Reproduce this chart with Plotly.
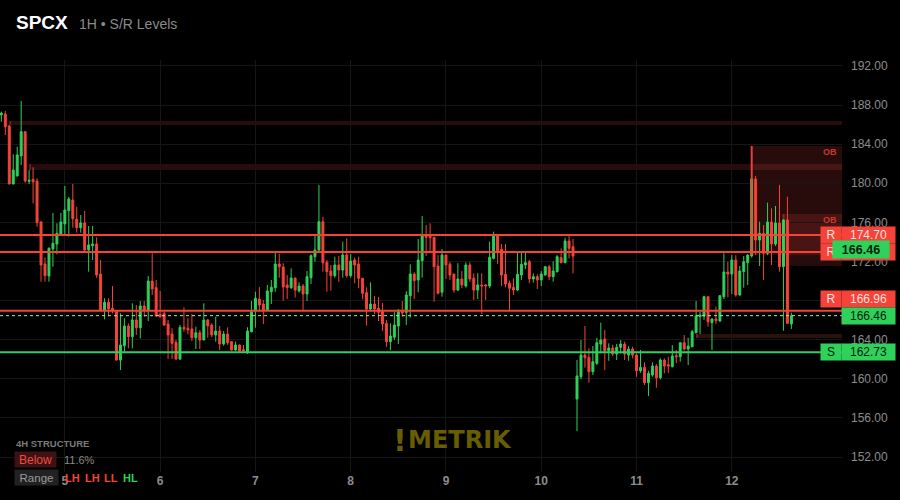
import pandas as pd
import plotly.graph_objects as go

# ---------------- data ----------------
start = pd.Timestamp("2025-01-04 08:00")

opens = [187.0, 187.09, 185.86, 179.93, 180.75, 182.79, 185.28, 180.2, 180.4, 180.24,
         176.04, 171.74, 170.52, 173.28, 173.79, 174.78, 175.84, 177.2, 178.29, 176.32,
         175.46, 175.94, 173.18, 173.62, 173.79, 170.72, 167.04, 167.83, 167.21, 166.86,
         161.92, 163.39, 165.4, 164.31, 166.02, 165.23, 167.45, 167.04, 170.0, 169.32,
         166.6, 166.70, 165.61, 164.58, 163.73, 162.03, 165.27, 165.17, 165.1, 164.2,
         164.72, 163.97, 166.02, 165.5, 164.48, 164.89, 163.56, 164.58, 163.8, 162.95,
         163.46, 162.98, 162.77, 164.82, 167.04, 168.16, 167.65, 167.04, 168.91, 169.32,
         171.74, 171.44, 169.6, 169.32, 170.31, 168.98, 169.49, 168.67, 170.34, 172.49,
         173.18, 176.07, 171.92, 171.03, 170.55, 171.64, 171.13, 172.66, 170.55, 172.15,
         171.74, 170.28, 168.81, 167.14, 167.65, 167.21, 166.86, 165.68, 163.8, 164.25,
         165.4, 166.86, 166.8, 168.5, 170.72, 170.11, 172.08, 174.61, 174.61, 174.48,
         171.54, 168.85, 172.66, 171.71, 170.72, 169.08, 170.21, 169.49, 171.64, 170.28,
         169.08, 169.6, 169.6, 169.49, 172.33, 174.61, 173.25, 170.69, 169.77, 169.36,
         169.08, 170.62, 171.64, 171.98, 170.21, 170.45, 170.11, 170.62, 171.47, 170.45,
         170.96, 172.39, 171.88, 174.1, 173.52, 157.93, 160.21, 162.43, 162.2, 160.73,
         161.59, 163.56, 164.07, 162.88, 163.15, 162.54, 163.22, 163.56, 162.43, 163.05,
         162.43, 160.83, 161.17, 159.6, 160.39, 161.31, 160.11, 161.92, 161.44, 161.24,
         162.37, 162.26, 163.69, 163.05, 163.28, 164.72, 166.35, 166.42, 168.4, 165.74,
         166.12, 165.91, 168.4, 170.93, 170.72, 172.15, 168.57, 170.96, 171.88, 172.56,
         180.44, 174.2, 174.88, 172.84, 176.04, 173.79, 175.94, 171.47, 176.25, 165.61]

highs = [187.32, 187.40, 185.96, 182.97, 183.74, 188.42, 185.35, 181.36, 181.64, 180.51,
         176.14, 172.43, 173.45, 176.96, 175.91, 176.96, 179.72, 178.6, 179.93, 177.58,
         176.76, 177.17, 175.63, 175.63, 174.48, 172.15, 168.24, 168.24, 169.49, 166.9,
         166.70, 166.19, 165.68, 167.72, 167.55, 167.96, 167.96, 170.52, 172.84, 170.11,
         168.98, 166.86, 166.02, 165.17, 163.97, 165.5, 167.31, 166.19, 166.63, 165.33,
         165.0, 167.72, 166.12, 165.68, 166.35, 165.4, 164.89, 165.27, 163.85, 163.8,
         163.5, 163.46, 165.27, 167.96, 168.91, 169.39, 168.06, 169.6, 170.11, 172.9,
         172.77, 171.82, 170.62, 171.3, 170.35, 169.87, 169.7, 171.03, 172.73, 174.71,
         179.83, 176.58, 172.15, 171.64, 172.49, 172.56, 174.03, 174.37, 172.77, 172.39,
         172.49, 170.3, 169.36, 169.87, 168.47, 168.37, 167.75, 166.02, 165.68, 166.86,
         167.14, 167.96, 168.98, 171.71, 170.9, 174.3, 176.65, 175.73, 175.91, 174.5,
         172.66, 173.28, 172.7, 171.98, 170.75, 171.82, 171.03, 171.92, 171.92, 170.79,
         170.79, 170.79, 169.7, 174.03, 175.05, 174.65, 173.79, 173.79, 170.04, 170.28,
         172.9, 172.9, 172.9, 172.15, 170.79, 170.69, 171.03, 171.5, 171.64, 172.02,
         172.66, 173.35, 174.44, 174.61, 174.3, 161.92, 163.97, 165.4, 163.12, 163.35,
         164.2, 165.74, 165.0, 163.63, 163.49, 163.56, 163.97, 163.8, 163.35, 163.28,
         162.61, 162.95, 161.69, 160.83, 161.69, 161.51, 162.1, 162.1, 162.26, 163.46,
         162.95, 163.72, 164.48, 164.2, 165.0, 167.96, 166.86, 168.5, 168.45, 166.19,
         167.38, 168.57, 172.84, 171.98, 172.66, 172.66, 171.54, 172.56, 172.77, 180.5,
         180.75, 176.07, 175.73, 178.02, 177.44, 177.68, 179.83, 176.3, 178.63, 166.76]

lows = [186.30, 184.94, 179.9, 179.9, 180.68, 181.87, 180.06, 179.93, 177.95, 175.56,
        169.93, 169.93, 169.93, 171.47, 172.74, 174.7, 174.71, 174.54, 175.46, 174.95,
        174.95, 173.0, 170.96, 172.15, 170.34, 167.0, 166.09, 166.42, 166.70, 161.85,
        160.9, 162.77, 163.12, 163.12, 164.48, 164.14, 166.35, 165.91, 168.57, 166.35,
        166.25, 165.43, 162.03, 162.03, 161.92, 161.92, 164.82, 164.55, 163.87, 163.05,
        163.05, 163.97, 164.2, 164.25, 163.8, 162.95, 163.39, 163.46, 162.88, 162.88,
        162.8, 162.8, 162.54, 164.76, 165.23, 167.04, 165.61, 167.0, 167.65, 168.91,
        170.34, 167.99, 168.16, 169.19, 168.3, 168.81, 166.97, 167.96, 169.7, 171.98,
        173.07, 170.96, 168.91, 169.01, 170.34, 169.93, 170.34, 170.34, 170.34, 169.77,
        169.26, 168.13, 165.43, 167.04, 166.63, 165.91, 164.89, 163.28, 162.95, 163.97,
        163.56, 166.35, 165.5, 166.25, 168.16, 168.85, 170.34, 172.56, 173.0, 167.89,
        168.64, 168.4, 170.21, 170.11, 168.81, 168.98, 169.26, 169.32, 169.93, 168.06,
        168.16, 166.63, 168.06, 169.26, 172.22, 171.74, 169.49, 169.36, 167.04, 168.57,
        168.98, 170.11, 171.23, 169.77, 169.84, 169.19, 169.49, 170.55, 170.11, 169.93,
        170.86, 171.82, 171.82, 172.33, 170.79, 154.66, 159.98, 161.14, 159.6, 160.39,
        161.41, 162.61, 160.9, 161.85, 162.33, 161.92, 162.61, 161.92, 161.85, 162.1,
        160.21, 160.62, 159.37, 158.24, 160.21, 159.09, 159.95, 160.56, 160.62, 161.17,
        161.59, 161.75, 162.88, 161.41, 163.22, 164.65, 164.58, 166.02, 165.33, 162.95,
        165.61, 165.84, 168.16, 168.33, 168.67, 168.4, 168.5, 169.32, 169.6, 172.4,
        172.66, 171.54, 170.11, 172.66, 171.64, 173.59, 170.96, 164.92, 165.61, 165.1]

closes = [187.16, 185.79, 179.93, 181.36, 182.90, 185.28, 180.24, 180.3, 180.15, 175.97,
          171.64, 170.55, 173.35, 173.86, 174.88, 176.04, 177.27, 178.39, 176.38, 175.46,
          175.94, 173.18, 173.69, 173.79, 170.62, 167.04, 167.83, 167.17, 166.94, 161.92,
          163.46, 165.4, 164.31, 166.02, 165.23, 167.45, 167.04, 170.0, 169.19, 166.42,
          166.35, 165.5, 164.48, 163.63, 162.03, 165.27, 165.1, 165.0, 164.2, 164.72,
          163.97, 166.02, 165.43, 164.48, 164.89, 163.56, 164.58, 163.69, 162.95, 163.46,
          162.84, 162.84, 164.89, 166.86, 168.24, 167.55, 167.04, 168.98, 169.36, 171.74,
          171.47, 169.39, 169.32, 170.31, 169.08, 169.49, 168.67, 170.45, 172.59, 173.18,
          176.07, 171.88, 170.96, 170.55, 171.64, 171.13, 172.66, 170.55, 172.05, 171.64,
          170.28, 168.75, 167.14, 167.65, 167.14, 166.8, 165.61, 163.8, 164.38, 165.5,
          166.86, 166.76, 168.57, 170.72, 170.04, 172.15, 174.61, 174.48, 174.44, 171.47,
          168.75, 172.66, 171.64, 170.62, 169.08, 170.21, 169.6, 171.64, 170.21, 169.08,
          169.6, 169.5, 169.5, 172.43, 174.61, 173.1, 170.62, 169.7, 169.26, 169.08,
          170.69, 171.71, 171.88, 170.21, 170.45, 170.11, 170.72, 171.47, 170.45, 171.03,
          172.49, 171.88, 174.1, 173.35, 172.56, 160.29, 162.43, 162.16, 160.73, 161.75,
          163.69, 163.97, 162.88, 163.15, 162.54, 163.22, 163.56, 162.54, 163.05, 162.43,
          160.83, 161.17, 159.6, 160.56, 161.31, 160.11, 161.92, 161.31, 161.31, 162.33,
          162.26, 163.69, 163.05, 163.35, 164.82, 166.42, 166.53, 168.4, 165.84, 166.12,
          165.95, 168.5, 170.93, 170.72, 172.15, 168.57, 171.03, 171.98, 172.66, 180.44,
          174.2, 174.88, 172.84, 176.04, 173.79, 175.94, 171.47, 176.25, 165.68, 166.46]

resistance_levels = [174.70, 172.97, 166.96]
support_levels = [162.73]
last_price = 166.46

zone_lo = [185.96, 181.36, 164.17]
zone_hi = [186.37, 181.97, 164.58]
zone_start = [2, 7, 175]

ob_lo = [172.66, 171.54]
ob_hi = [183.82, 176.86]
ob_start = [189, 197]

y_ticks = [152, 156, 160, 164, 168, 172, 176, 180, 184, 188, 192]
day_labels = ["5", "6", "7", "8", "9", "10", "11", "12"]

structure_pct = "11.6%"
structure_seq = ["LH", "LH", "LL", "HL"]

# ---------------- style ----------------
G = "#2fd15a"
R = "#f5433a"
BG = "#000000"
GRID = "#161616"
TXT = "#8c8c8c"
FONT = "Liberation Sans, Arial, sans-serif"

times = pd.date_range(start, periods=len(opens), freq="h")
x_lo = start - pd.Timedelta(hours=0.335)
x_hi = start + pd.Timedelta(hours=211.75)
day_ticks = [pd.Timestamp(start.date()) + pd.Timedelta(days=i + 1) for i in range(len(day_labels))]

PW, PH, PT = 842, 412, 60


def xp(px):
    return px / PW


def yp(py):
    return (PT + PH - py) / PH


fig = go.Figure()
fig.add_trace(go.Candlestick(
    x=times, open=opens, high=highs, low=lows, close=closes,
    increasing=dict(line=dict(color=G, width=1), fillcolor=G),
    decreasing=dict(line=dict(color=R, width=1), fillcolor=R),
    whiskerwidth=0, showlegend=False, hoverinfo="skip",
))

shapes = []
# zone bands
for lo, hi, s in zip(zone_lo, zone_hi, zone_start):
    col = "rgba(190,80,50,0.22)" if lo < 170 else "rgba(239,68,68,0.17)"
    shapes.append(dict(type="rect", xref="x", yref="y", x0=times[s], x1=x_hi, y0=lo, y1=hi,
                       fillcolor=col, line=dict(width=0), layer="below"))
    shapes.append(dict(type="rect", xref="x", yref="y", x0=times[s], x1=times[s] + pd.Timedelta(hours=0.5),
                       y0=lo, y1=hi, fillcolor="rgba(239,68,68,0.35)", line=dict(width=0), layer="below"))
# order blocks
for k, (lo, hi, s) in enumerate(zip(ob_lo, ob_hi, ob_start)):
    shapes.append(dict(type="rect", xref="x", yref="y", x0=times[s], x1=x_hi, y0=lo, y1=hi,
                       fillcolor="rgba(239,68,68,0.17)", line=dict(width=0), layer="below"))
    edge = "rgba(245,67,58,0.95)" if k == 0 else "rgba(239,68,68,0.45)"
    shapes.append(dict(type="line", xref="x", yref="y", x0=times[s], x1=times[s], y0=lo, y1=hi,
                       line=dict(color=edge, width=2), layer="above" if k == 0 else "below"))
# levels
for lv in resistance_levels:
    shapes.append(dict(type="line", xref="paper", yref="y", x0=0, x1=1, y0=lv, y1=lv,
                       line=dict(color=R, width=2), layer="above"))
for lv in support_levels:
    shapes.append(dict(type="line", xref="paper", yref="y", x0=0, x1=1, y0=lv, y1=lv,
                       line=dict(color=G, width=2), layer="above"))
shapes.append(dict(type="line", xref="paper", yref="y", x0=0, x1=1, y0=last_price, y1=last_price,
                   line=dict(color="#a8e8bc", width=1, dash="3px,3px"), layer="above"))

ann = []
# title
ann.append(dict(text="<b>SPCX</b>", x=xp(14), y=yp(23), xref="paper", yref="paper", xanchor="left",
                yanchor="middle", showarrow=False, font=dict(family=FONT, size=19, color="#ffffff")))
ann.append(dict(text="1H • S/R Levels", x=xp(77), y=yp(24), xref="paper", yref="paper", xanchor="left",
                yanchor="middle", showarrow=False, font=dict(family=FONT, size=14, color="#8a8a8a")))

# OB labels
for hi in ob_hi:
    ann.append(dict(text="<b>OB</b>", x=xp(839), y=hi, yshift=-6, xref="paper", yref="y", xanchor="right",
                    yanchor="middle", showarrow=False, font=dict(family=FONT, size=9, color="#c8382e")))

# watermark
ann.append(dict(text="<b>!</b>", x=xp(391), y=yp(440), xref="paper", yref="paper", xanchor="left",
                yanchor="middle", showarrow=False, font=dict(family="DejaVu Sans", size=30, color="#665e00")))
ann.append(dict(text="<b>METRIK</b>", x=xp(406), y=yp(440), xref="paper", yref="paper", xanchor="left",
                yanchor="middle", showarrow=False, font=dict(family="DejaVu Sans", size=24, color="#665e00")))

# structure panel
ann.append(dict(text="<b>4H STRUCTURE</b>", x=xp(14), y=yp(443), xref="paper", yref="paper", xanchor="left",
                yanchor="middle", showarrow=False, font=dict(family=FONT, size=9.5, color="#7a7a7a")))
ann.append(dict(text="Below", x=xp(35.5), y=yp(459.5), xref="paper", yref="paper", xanchor="center",
                yanchor="middle", showarrow=False, width=41, height=15, borderpad=0, bgcolor="#3d1214",
                font=dict(family=FONT, size=12, color="#f04a40")))
ann.append(dict(text=structure_pct, x=xp(62), y=yp(460), xref="paper", yref="paper", xanchor="left",
                yanchor="middle", showarrow=False, font=dict(family=FONT, size=11, color="#8a8a8a")))
ann.append(dict(text="Range", x=xp(36.5), y=yp(477.5), xref="paper", yref="paper", xanchor="center",
                yanchor="middle", showarrow=False, width=43, height=15, borderpad=0, bgcolor="#222222",
                font=dict(family=FONT, size=11.5, color="#9a9a9a")))
seq_x = [63, 83, 102, 121]
for s, px in zip(structure_seq, seq_x):
    ann.append(dict(text="<b>%s</b>" % s, x=xp(px), y=yp(478), xref="paper", yref="paper", xanchor="left",
                    yanchor="middle", showarrow=False,
                    font=dict(family=FONT, size=11, color=G if s.startswith("H") else R)))


def badge(letter, value, level, color, txtcol, shift=0):
    if letter:
        ann.append(dict(text=letter, x=xp(831), y=level, yshift=shift, xref="paper", yref="y",
                        xanchor="center", yanchor="middle", showarrow=False, width=20, height=16,
                        borderpad=0, bgcolor=color, font=dict(family=FONT, size=12, color=txtcol)))
    ann.append(dict(text="%.2f" % value, x=xp(868.5), y=level, yshift=shift, xref="paper", yref="y",
                    xanchor="center", yanchor="middle", showarrow=False, width=53, height=16,
                    borderpad=0, bgcolor=color, font=dict(family=FONT, size=12, color=txtcol)))


badge("R", resistance_levels[0], resistance_levels[0], R, "#fde0dd")
badge("R", resistance_levels[1], resistance_levels[1], R, "#fde0dd")
badge("R", resistance_levels[2], resistance_levels[2], R, "#fde0dd", shift=12)
badge(None, last_price, last_price, G, "#062010")
badge("S", support_levels[0], support_levels[0], G, "#062010")

# floating last-price badge
ann.append(dict(text="<b>%.2f</b>" % last_price, x=xp(861), y=yp(249.5), xref="paper", yref="paper",
                xanchor="center", yanchor="middle", showarrow=False, width=56, height=17, borderpad=0,
                bgcolor=G, font=dict(family=FONT, size=12.5, color="#06200f")))

fig.update_layout(
    width=900, height=500,
    margin=dict(l=0, r=58, t=PT, b=28),
    paper_bgcolor=BG, plot_bgcolor=BG,
    shapes=shapes, annotations=ann,
    showlegend=False, hovermode=False,
    xaxis=dict(type="date", range=[x_lo, x_hi], rangeslider=dict(visible=False),
               tickvals=day_ticks, ticktext=day_labels, showgrid=True, gridcolor=GRID, gridwidth=1,
               zeroline=False, showline=False, ticks="",
               tickfont=dict(family=FONT, size=12, color=TXT, weight="bold")),
    yaxis=dict(side="right", range=[150.47, 192.61], tickvals=y_ticks, tickformat=".2f",
               showgrid=True, gridcolor=GRID, gridwidth=1, zeroline=False, showline=False, ticks="",
               ticklabelstandoff=8, tickfont=dict(family=FONT, size=12, color=TXT)),
)

fig.write_html(
    "out.html",
    config={"displayModeBar": False},
    post_script="document.body.style.margin='0';document.body.style.background='#000';",
)
